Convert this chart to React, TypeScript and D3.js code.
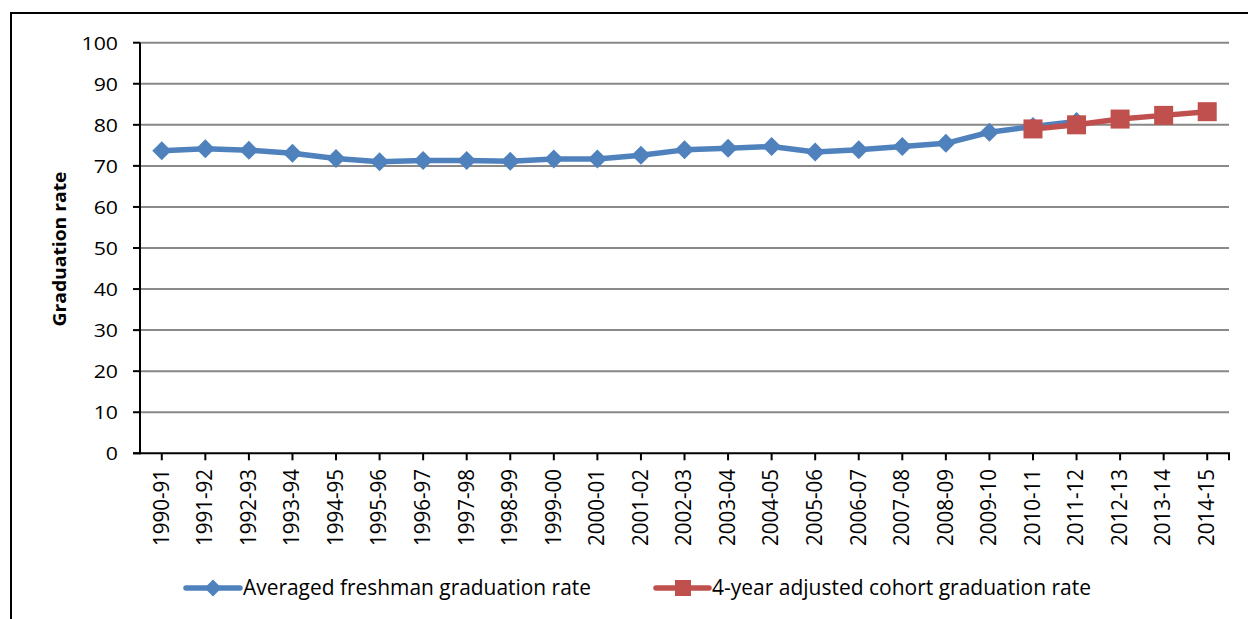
import React from "react";
import * as d3 from "d3";

const categories = [
  "1990-91", "1991-92", "1992-93", "1993-94", "1994-95", "1995-96", "1996-97",
  "1997-98", "1998-99", "1999-00", "2000-01", "2001-02", "2002-03", "2003-04",
  "2004-05", "2005-06", "2006-07", "2007-08", "2008-09", "2009-10", "2010-11",
  "2011-12", "2012-13", "2013-14", "2014-15",
];

const afgrCategories = categories.slice(0, 22);
const afgrValues = [
  73.7, 74.2, 73.8, 73.1, 71.8, 71.0, 71.3, 71.3, 71.1, 71.7, 71.7, 72.6, 73.9,
  74.3, 74.7, 73.4, 73.9, 74.7, 75.5, 78.2, 79.6, 80.8,
];

const acgrCategories = ["2010-11", "2011-12", "2012-13", "2013-14", "2014-15"];
const acgrValues = [79, 80, 81.4, 82.3, 83.2];

const yTicks = [0, 10, 20, 30, 40, 50, 60, 70, 80, 90, 100];

const seriesNames = [
  "Averaged freshman graduation rate",
  "4-year adjusted cohort graduation rate",
];
const yTitle = "Graduation rate";

const W = 1248;
const H = 619;
const BLUE = "#4F81BD";
const RED = "#C0504D";
const GRID = "#898989";
const FONT = "'Open Sans', 'Noto Sans', sans-serif";

export default function App() {
  const left = 140;
  const right = 1229;
  const top = 42.7;
  const bottom = 453.3;

  const x = d3.scaleBand<string>().domain(categories).range([left, right]).padding(0);
  const cx = (c: string) => (x(c) as number) + x.bandwidth() / 2;
  const y = d3.scaleLinear().domain([0, 100]).range([bottom, top]);

  const line = d3
    .line<[string, number]>()
    .x((d) => cx(d[0]))
    .y((d) => y(d[1]));

  const afgr: [string, number][] = afgrCategories.map((c, i) => [c, afgrValues[i]]);
  const acgr: [string, number][] = acgrCategories.map((c, i) => [c, acgrValues[i]]);

  const diamond = (px: number, py: number, r: number) =>
    `M${px},${py - r}L${px + r},${py}L${px},${py + r}L${px - r},${py}Z`;

  return (
    <svg
      width={W}
      height={H}
      style={{ position: "absolute", left: 0, top: 0, background: "#fff" }}
      fontFamily={FONT}
    >
      <rect x={0} y={0} width={W} height={H} fill="#fff" />
      {/* outer border */}
      <line x1={11} y1={13} x2={W + 5} y2={13} stroke="#000" strokeWidth={2} />
      <line x1={11} y1={12} x2={11} y2={H + 5} stroke="#000" strokeWidth={2} />

      {/* gridlines */}
      {yTicks.map((t) =>
        t === 0 ? null : (
          <line key={"g" + t} x1={left} x2={right} y1={y(t)} y2={y(t)} stroke={GRID} strokeWidth={2} />
        )
      )}
      {/* y tick marks */}
      {yTicks.map((t) => (
        <line key={"yt" + t} x1={133} x2={left} y1={y(t)} y2={y(t)} stroke="#000" strokeWidth={2} />
      ))}
      {/* y labels */}
      {yTicks.map((t) => (
        <text
          key={"yl" + t}
          transform={`translate(118,${y(t) + 6.8}) scale(1.12,1)`}
          textAnchor="end"
          fontSize={19}
          fill="#000"
        >
          {t}
        </text>
      ))}

      {/* axes */}
      <line x1={left} x2={left} y1={top} y2={bottom + 1} stroke="#000" strokeWidth={2} />
      <line x1={left - 7} x2={right + 1} y1={bottom} y2={bottom} stroke="#000" strokeWidth={2} />
      {categories.map((c) => (
        <line key={"xt" + c} x1={cx(c)} x2={cx(c)} y1={bottom} y2={bottom + 7} stroke="#000" strokeWidth={2} />
      ))}
      <line x1={right} x2={right} y1={bottom} y2={bottom + 7} stroke="#000" strokeWidth={2} />

      {/* x labels */}
      {categories.map((c) => (
        <text
          key={"xl" + c}
          transform={`translate(${cx(c) + 6.8},469) rotate(-90) scale(1,1.12)`}
          textAnchor="end"
          fontSize={19}
          textLength={77}
          lengthAdjust="spacingAndGlyphs"
          fill="#000"
        >
          {c}
        </text>
      ))}

      {/* y title */}
      <text
        transform={`translate(66,249) rotate(-90)`}
        textAnchor="middle"
        fontSize={17.5}
        fontWeight="bold"
        textLength={155}
        lengthAdjust="spacingAndGlyphs"
        fill="#000"
      >
        {yTitle}
      </text>

      {/* AFGR series */}
      <path d={line(afgr) || ""} fill="none" stroke={BLUE} strokeWidth={5.5} strokeLinejoin="round" />
      {afgr.map((d) => (
        <path key={"d" + d[0]} d={diamond(cx(d[0]), y(d[1]), 9.5)} fill={BLUE} />
      ))}

      {/* ACGR series */}
      <path d={line(acgr) || ""} fill="none" stroke={RED} strokeWidth={5.5} strokeLinejoin="round" />
      {acgr.map((d) => (
        <rect key={"s" + d[0]} x={cx(d[0]) - 9.5} y={y(d[1]) - 9.5} width={19} height={19} fill={RED} />
      ))}

      {/* legend */}
      <line x1={186} x2={240} y1={588} y2={588} stroke={BLUE} strokeWidth={5.5} strokeLinecap="round" />
      <path d={diamond(213, 588, 8.5)} fill={BLUE} />
      <text x={243} y={595} fontSize={21} textLength={348} lengthAdjust="spacingAndGlyphs" fill="#000">
        {seriesNames[0]}
      </text>
      <line x1={656} x2={709} y1={588} y2={588} stroke={RED} strokeWidth={5.5} strokeLinecap="round" />
      <rect x={675} y={580} width={16} height={16} fill={RED} />
      <text x={712} y={595} fontSize={21} textLength={379} lengthAdjust="spacingAndGlyphs" fill="#000">
        {seriesNames[1]}
      </text>
    </svg>
  );
}
